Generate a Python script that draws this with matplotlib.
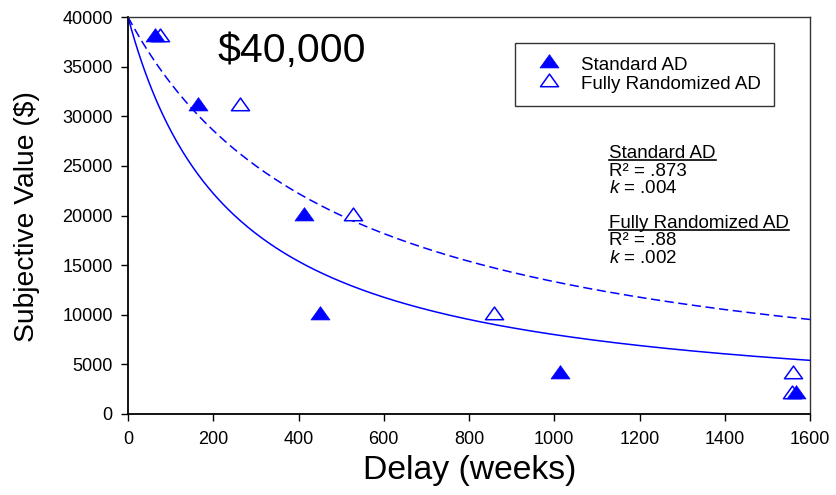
import numpy as np
import matplotlib
matplotlib.use('Agg')
import matplotlib.pyplot as plt
from matplotlib.lines import Line2D
from matplotlib.path import Path

plt.rcParams['font.family'] = ['Liberation Sans', 'DejaVu Sans']
plt.rcParams['mathtext.fontset'] = 'custom'
plt.rcParams['mathtext.rm'] = 'Liberation Sans'
plt.rcParams['mathtext.it'] = 'Liberation Sans:italic'

# data
amount = 40000
std_delay = [63, 164, 413, 450, 1013, 1567]
std_value = [38000, 31000, 20000, 10000, 4000, 2000]
rand_delay = [75, 262, 528, 859, 1560, 1557]
rand_value = [38000, 31000, 20000, 10000, 4000, 2000]

# hyperbolic fit parameters shown in the panel
k_std = 0.004
k_rand = 0.002
x_max = 1600

W, H = 836, 495
fig = plt.figure(figsize=(W / 100, H / 100), dpi=100)


def fx(px):
    return px / W


def fy(py):
    return 1 - py / H


ax = fig.add_axes([fx(128), fy(414), (810 - 128) / W, (414 - 17) / H])

blue = '#0000FF'
# flattened triangle with its centroid on the data point
tri = Path([(-1, -0.467), (1, -0.467), (0, 0.933), (-1, -0.467)],
           [Path.MOVETO, Path.LINETO, Path.LINETO, Path.CLOSEPOLY])

d = np.linspace(0, x_max, 400)
ax.plot(d, amount / (1 + k_std * d), color=blue, lw=1.1)
ax.plot(d, amount / (1 + k_rand * d), color=blue, lw=1.1, dashes=(6, 3))

# filled markers sit on top of the open ones
ax.plot(std_delay, std_value, ls='none', marker=tri, ms=13.7, zorder=4,
        mfc=blue, mec=blue, mew=0.5, label='Standard AD', clip_on=False)
ax.plot(rand_delay, rand_value, ls='none', marker=tri, ms=13, zorder=3,
        mfc='white', mec=blue, mew=1.1, label='Fully Randomized AD', clip_on=False)

ax.set_xlim(0, 1600)
ax.set_ylim(0, 40000)
ax.set_xticks(range(0, 1601, 200))
ax.set_yticks(range(0, 40001, 5000))
ax.tick_params(direction='out', length=5, width=1, labelsize=13, pad=6)
ax.tick_params(axis='x', pad=7)
for side in ['left', 'bottom']:
    ax.spines[side].set_linewidth(1.3)
for side in ['top', 'right']:
    ax.spines[side].set_linewidth(1.0)
    ax.spines[side].set_color('#333333')

fig.text(fx(470), fy(470), 'Delay (weeks)', fontsize=24.3, ha='center', va='center')
fig.text(fx(27), fy(217), 'Subjective Value ($)', fontsize=20.3, ha='center',
         va='center', rotation=90)

fig.text(fx(218), fy(62), '$40,000', fontsize=29.5, ha='left', va='baseline')

leg = ax.legend(loc='upper left', bbox_to_anchor=(fx(515), fy(43)),
                bbox_transform=fig.transFigure, fontsize=13.5, frameon=True,
                fancybox=False, edgecolor='black', borderpad=0.72,
                handlelength=2.2, handletextpad=0.6, labelspacing=0.1,
                borderaxespad=0)
leg.get_frame().set_linewidth(1.0)

notes = [
    ('Standard AD', 158, True),
    ('R\u00b2 = .873', 176, False),
    ('$k$ = .004', 193, False),
    ('Fully Randomized AD', 228, True),
    ('R\u00b2 = .88', 245, False),
    ('$k$ = .002', 263, False),
]
texts = []
for s, yb, under in notes:
    t = fig.text(fx(609), fy(yb), s, fontsize=13.5, ha='left', va='baseline')
    texts.append((t, yb, under))

fig.canvas.draw()
for t, yb, under in texts:
    if under:
        bb = t.get_window_extent()
        fig.add_artist(Line2D([fx(bb.x0), fx(bb.x1)], [fy(yb + 2), fy(yb + 2)],
                              transform=fig.transFigure, color='black', lw=1.2))

fig.savefig('out.png', dpi=100)
